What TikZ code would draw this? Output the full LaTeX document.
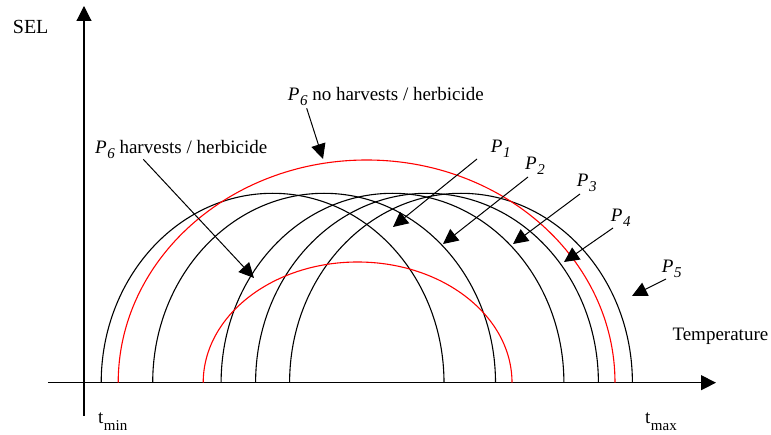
\documentclass[tikz,border=0pt]{standalone}
\usepackage{fontspec}
\setmainfont{Liberation Serif}
\usetikzlibrary{arrows.meta}

\newcommand{\Psub}[1]{\textit{P}\kern0.5pt\lower5pt\hbox{\fontsize{15}{15}\selectfont\textit{#1}}}
\newcommand{\tsub}[1]{t\kern0.5pt\lower7pt\hbox{\fontsize{15}{15}\selectfont #1}}

\begin{document}
\begin{tikzpicture}[x=10pt, y=10pt,
	curve/.style={line width=1.1pt},
	redcurve/.style={curve, draw=red},
	axis/.style={line width=1.1pt, -{Triangle[length=15pt, width=15pt]}},
	pointer/.style={line width=1pt, -{Triangle[length=15pt, width=14.5pt]}},
	lbl/.style={anchor=base west, inner sep=0pt, font=\fontsize{19}{22}\selectfont}]
	\useasboundingbox (-8.4,-5.13) rectangle (68.7,38.27);
	% axes
	\coordinate (xstart) at (-3.6,0);
	\coordinate (xend) at (63.2,0);
	\coordinate (ystart) at (0,-3.3);
	\coordinate (yend) at (0,37.67);
	\draw[axis] (xstart) -- (xend);
	\draw[axis] (ystart) -- (yend);
	\node[lbl, font=\fontsize{20}{22}\selectfont] (sel) at (-7.13,34.94) {SEL};
	\node[lbl] (temp) at (58.83,4.2) {Temperature};
	\node[lbl] (tmin) at (1.4,-4.06) {\tsub{min}};
	\node[lbl] (tmax) at (56.1,-4.06) {\tsub{max}};
	% P1 ... P5
	\foreach \a in {1.72, 6.87, 13.71, 17.16, 20.56}
		\draw[curve] (\a,0) arc[start angle=180, end angle=0, x radius=17.14, y radius=18.94];
	% P6 with and without harvests
	\draw[redcurve] (3.42,0) arc[start angle=180, end angle=0, x radius=24.84, y radius=22.27];
	\draw[redcurve] (11.92,0) arc[start angle=180, end angle=0, x radius=15.44, y radius=12.07];
	% labels
	\node[lbl] (p6no) at (20.37,28.2) {\Psub{6} no harvests / herbicide};
	\node[lbl] (p6h) at (1.1,22.94) {\Psub{6} harvests / herbicide};
	\node[lbl] (p1) at (40.67,22.97) {\Psub{1}};
	\node[lbl] (p2) at (44.1,21.27) {\Psub{2}};
	\node[lbl] (p3) at (49.27,19.6) {\Psub{3}};
	\node[lbl] (p4) at (52.67,16.1) {\Psub{4}};
	\node[lbl] (p5) at (57.77,11.0) {\Psub{5}};
	% arrow tips
	\coordinate (p6notip) at (23.9,22.37);
	\coordinate (p6htip) at (17.0,10.47);
	\coordinate (p1tip) at (30.9,15.57);
	\coordinate (p2tip) at (35.9,13.87);
	\coordinate (p3tip) at (42.9,13.87);
	\coordinate (p4tip) at (48.0,12.07);
	\coordinate (p5tip) at (54.8,8.67);
	\draw[pointer] ([shift={(1.9,-0.76)}]p6no.base west) -- (p6notip);
	\draw[pointer] ([shift={(4.83,-0.6)}]p6h.base west) -- (p6htip);
	\draw[pointer] ([shift={(-1.37,-0.6)}]p1.base west) -- (p1tip);
	\draw[pointer] ([shift={(0.3,-0.7)}]p2.base west) -- (p2tip);
	\draw[pointer] ([shift={(0.33,-0.73)}]p3.base west) -- (p3tip);
	\draw[pointer] ([shift={(0.23,-0.63)}]p4.base west) -- (p4tip);
	\draw[pointer] ([shift={(0.43,-0.63)}]p5.base west) -- (p5tip);
\end{tikzpicture}
\end{document}
